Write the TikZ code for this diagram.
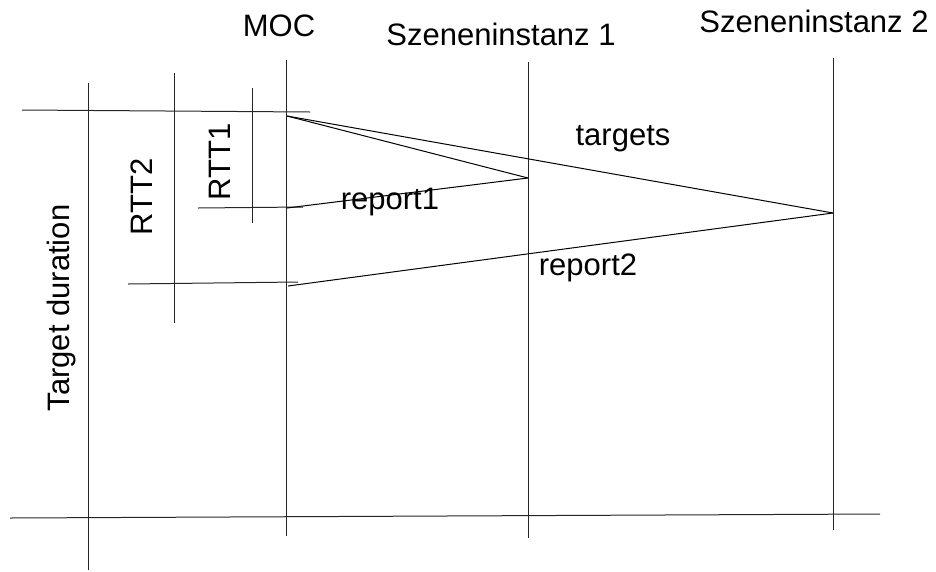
\documentclass[tikz,border=0pt]{standalone}
\usepackage{fontspec}
\setmainfont{Liberation Sans}
\begin{document}
\begin{tikzpicture}[x=1pt,y=-1pt,
  rule/.style={draw=black!85,line width=1pt},
  msg/.style={draw=black,line width=1pt},
  lbl/.style={font=\fontsize{31}{36}\selectfont,inner sep=0pt}]
\useasboundingbox (0,0) rectangle (936,571);

% lifeline headers
\node[lbl] (moc) at (279,26) {MOC};
\node[lbl] (sz1) at (501,34) {Szeneninstanz 1};
\node[lbl] (sz2) at (814,21) {Szeneninstanz 2};

% lifelines
\coordinate (mocT) at (286,60);  \coordinate (mocB) at (286,536);
\coordinate (s1T)  at (528,62);  \coordinate (s1B)  at (528,538);
\coordinate (s2T)  at (833,58);  \coordinate (s2B)  at (833,530);
\draw[rule] (mocT) -- (mocB);
\draw[rule] (s1T) -- (s1B);
\draw[rule] (s2T) -- (s2B);

% time measurement rules
\coordinate (tdT) at (88,83);   \coordinate (tdB) at (88,570);
\coordinate (r2T) at (174,73);  \coordinate (r2B) at (174,323);
\coordinate (r1T) at (252,88);  \coordinate (r1B) at (252,223);
\draw[rule] (tdT) -- (tdB);
\draw[rule] (r2T) -- (r2B);
\draw[rule] (r1T) -- (r1B);

% horizontal marks
\coordinate (topL) at (22,110);  \coordinate (topR) at (310,112);
\coordinate (m1L) at (198,208);  \coordinate (m1R) at (303,207);
\coordinate (m2L) at (128,284);  \coordinate (m2R) at (298,282);
\coordinate (botL) at (10,518);  \coordinate (botR) at (880,514);
\draw[rule] (topL) -- (topR);
\draw[rule] (m1L) -- (m1R);
\draw[rule] (m2L) -- (m2R);
\draw[rule] (botL) -- (botR);

% messages
\coordinate (send) at (287,116);
\coordinate (at1) at (528,178);
\coordinate (at2) at (833,213);
\coordinate (back1) at (287,208);
\coordinate (back2) at (288,286);
\draw[msg] (send) -- (at1);
\draw[msg] (send) -- (at2);
\draw[msg] (at1) -- (back1);
\draw[msg] (at2) -- (back2);

% labels
\node[lbl] (tgt) at (623,139) {targets};
\node[lbl] (rep1) at (390,202) {report1};
\node[lbl] (rep2) at (588,268) {report2};
\node[lbl,rotate=90] (rtt1) at (220,162) {RTT1};
\node[lbl,rotate=90] (rtt2) at (142,197) {RTT2};
\node[lbl,rotate=90] (tdur) at (61,308) {Target duration};
\end{tikzpicture}
\end{document}
